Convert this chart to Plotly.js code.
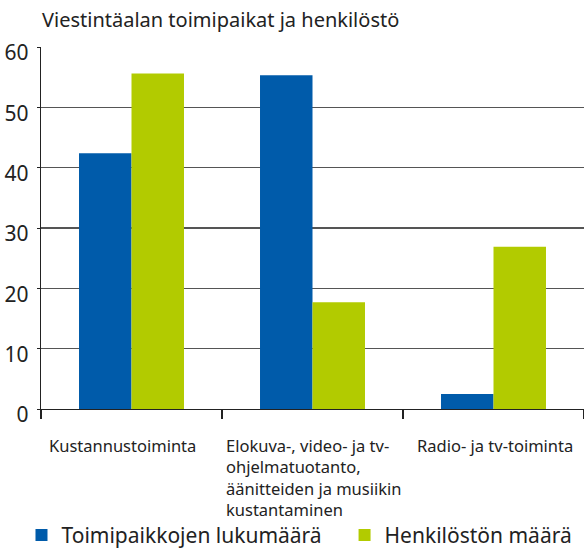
<!DOCTYPE html>
<html>
<head>
<meta charset="utf-8">
<script src="https://cdn.plot.ly/plotly-3.0.1.min.js"></script>
<style>html,body{margin:0;padding:0;background:#fff;}#chart{width:584px;height:549px;}</style>
</head>
<body>
<div id="chart"></div>
<script>
const categories = ["Kustannustoiminta", "Elokuva-, video- ja tv-<br>ohjelmatuotanto,<br>äänitteiden ja musiikin<br>kustantaminen", "Radio- ja tv-toiminta"];
const catKeys = ["c1", "c2", "c3"];
const seriesNames = ["Toimipaikkojen lukumäärä", "Henkilöstön määrä"];
const toimipaikat = [42.4, 55.3, 2.5];
const henkilosto = [55.6, 17.7, 26.9];
const yTicks = [0, 10, 20, 30, 40, 50, 60];

const FONT = "Noto Sans, sans-serif";
const data = [
  {type: "bar", name: seriesNames[0], x: catKeys, y: toimipaikat, marker: {color: "#005BAA"}, hoverinfo: "y", legend: "legend"},
  {type: "bar", name: seriesNames[1], x: catKeys, y: henkilosto, marker: {color: "#B2CB00"}, hoverinfo: "y", legend: "legend2"}
];

const annotations = categories.map((c, i) => ({
  x: catKeys[i], xref: "x", y: 0, yref: "paper", yanchor: "top", xanchor: "center",
  yshift: -23, xshift: (i === 0 ? -9 : 1), align: "left", showarrow: false, text: c,
  font: {family: FONT, size: 16.5, color: "#222"}
}));

const legendBase = {orientation: "h", xref: "container", yref: "container", xanchor: "left", y: 0.025, yanchor: "middle",
  font: {family: FONT, size: 21, color: "#222"}, itemwidth: 30, bgcolor: "rgba(0,0,0,0)"};

const layout = {
  width: 584, height: 549,
  margin: {l: 41, r: 0, t: 47, b: 140},
  paper_bgcolor: "#fff", plot_bgcolor: "#fff",
  font: {family: FONT, color: "#222"},
  title: {text: "Viestintäalan toimipaikat ja henkilöstö", x: 0, xref: "container", xanchor: "left", y: 0.963, yanchor: "middle", pad: {l: 42}, font: {family: FONT, size: 20, color: "#222"}},
  barmode: "group", bargap: 0.42, bargroupgap: 0,
  showlegend: true,
  legend: Object.assign({}, legendBase, {x: 0.0368}),
  legend2: Object.assign({}, legendBase, {x: 0.590}),
  xaxis: {type: "category", showticklabels: false, ticks: "outside", tickson: "boundaries", ticklen: 9, tickcolor: "#222", tickwidth: 1.3,
          showline: true, linecolor: "#222", linewidth: 1.3, showgrid: false, fixedrange: true},
  yaxis: {range: [0, 60], tickvals: yTicks, ticktext: yTicks.map(String), ticks: "outside", ticklen: 3, tickcolor: "#222",
          showline: true, linecolor: "#222", linewidth: 1.3, showgrid: true, gridcolor: "#555", gridwidth: 1.3,
          zeroline: false, tickfont: {family: FONT, size: 21, color: "#222"}, ticklabelshift: 6, ticklabelstandoff: 4, fixedrange: true},
  annotations: annotations
};

Plotly.newPlot("chart", data, layout, {displayModeBar: false, staticPlot: true});
</script>
</body>
</html>
